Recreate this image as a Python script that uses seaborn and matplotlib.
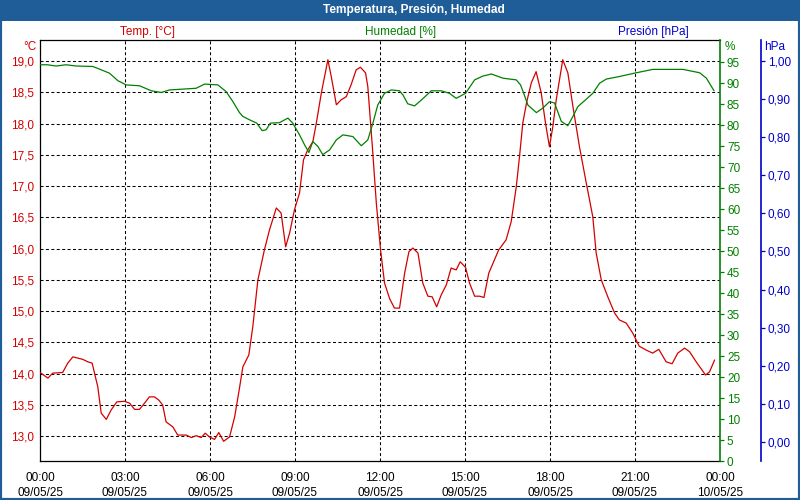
import matplotlib
matplotlib.use("Agg")
import matplotlib.pyplot as plt
import seaborn as sns
from matplotlib.patches import Rectangle
from matplotlib.ticker import MultipleLocator

# ---------------- data ----------------
temp_hours = [0.0, 0.28, 0.45, 0.8, 0.98, 1.16, 1.51, 1.69, 1.84, 2.04, 2.16, 2.34, 2.51, 2.71,
              2.98, 3.16, 3.34, 3.51, 3.69, 3.86, 4.04, 4.19, 4.33, 4.45, 4.69, 4.86, 5.16, 5.34,
              5.51, 5.69, 5.83, 5.98, 6.16, 6.31, 6.48, 6.69, 6.87, 6.93, 7.04, 7.16, 7.37, 7.51,
              7.69, 7.92, 8.10, 8.34, 8.51, 8.67, 8.81, 8.98, 9.16, 9.30, 9.45, 9.63, 9.75, 9.93,
              10.16, 10.28, 10.46, 10.63, 10.81, 10.98, 11.16, 11.31, 11.49, 11.57, 11.73, 11.87,
              12.02, 12.16, 12.34, 12.51, 12.69, 12.87, 13.02, 13.16, 13.34, 13.51, 13.69, 13.84,
              14.00, 14.16, 14.34, 14.51, 14.69, 14.83, 15.02, 15.16, 15.34, 15.51, 15.67, 15.84,
              16.04, 16.19, 16.45, 16.63, 16.81, 16.93, 17.04, 17.18, 17.34, 17.51, 17.69, 17.84,
              17.98, 18.10, 18.22, 18.45, 18.63, 18.81, 19.04, 19.28, 19.51, 19.63, 19.81, 20.04,
              20.28, 20.45, 20.69, 20.92, 21.15, 21.39, 21.62, 21.84, 22.10, 22.31, 22.51, 22.75,
              22.93, 23.16, 23.49, 23.63, 23.81]
temp_values = [14.02, 13.93, 14.01, 14.02, 14.17, 14.27, 14.23, 14.19, 14.17, 13.79, 13.37, 13.27,
               13.42, 13.55, 13.56, 13.53, 13.43, 13.43, 13.53, 13.63, 13.63, 13.58, 13.50, 13.23,
               13.15, 13.02, 13.02, 12.98, 13.01, 12.98, 13.05, 12.99, 12.95, 13.06, 12.92, 12.99,
               13.31, 13.47, 13.77, 14.11, 14.30, 14.75, 15.50, 15.98, 16.30, 16.65, 16.57, 16.03,
               16.25, 16.62, 16.89, 17.42, 17.58, 17.71, 18.00, 18.49, 19.02, 18.75, 18.30, 18.38,
               18.43, 18.62, 18.86, 18.90, 18.81, 18.59, 17.63, 16.73, 15.98, 15.45, 15.20, 15.05,
               15.05, 15.61, 15.95, 16.01, 15.93, 15.45, 15.24, 15.23, 15.07, 15.26, 15.42, 15.69,
               15.66, 15.79, 15.70, 15.45, 15.24, 15.24, 15.22, 15.61, 15.82, 15.98, 16.14, 16.43,
               16.99, 17.50, 18.01, 18.35, 18.65, 18.83, 18.49, 18.01, 17.63, 17.95, 18.38, 19.02,
               18.81, 18.27, 17.63, 17.05, 16.51, 15.93, 15.50, 15.23, 14.97, 14.86, 14.81, 14.65,
               14.44, 14.38, 14.33, 14.39, 14.19, 14.16, 14.33, 14.41, 14.35, 14.19, 13.98, 14.03,
               14.22]

hum_hours = [0.0, 0.26, 0.57, 0.92, 1.28, 1.86, 2.16, 2.45, 2.75, 3.04, 3.51, 3.93, 4.28, 4.57,
             5.04, 5.51, 5.81, 6.28, 6.57, 6.81, 7.04, 7.16, 7.39, 7.65, 7.84, 7.98, 8.13, 8.45,
             8.75, 8.92, 9.16, 9.34, 9.49, 9.63, 9.81, 9.98, 10.22, 10.46, 10.69, 11.04, 11.34,
             11.57, 11.75, 11.92, 12.16, 12.40, 12.69, 12.81, 12.98, 13.22, 13.46, 13.81, 14.16,
             14.45, 14.69, 15.02, 15.34, 15.63, 15.93, 16.34, 16.81, 16.96, 17.05, 17.22, 17.52,
             17.75, 17.98, 18.16, 18.40, 18.63, 18.81, 18.98, 19.28, 19.51, 19.75, 19.99, 20.45,
             20.98, 21.63, 22.69, 23.28, 23.52, 23.79]
hum_values = [94.4, 94.4, 94.1, 94.4, 94.1, 94.0, 93.2, 92.4, 90.6, 89.6, 89.4, 88.2, 87.8, 88.4,
              88.6, 88.8, 89.8, 89.6, 88.0, 85.6, 83.0, 82.1, 81.3, 80.5, 78.7, 78.9, 80.5, 80.6,
              81.7, 80.5, 77.7, 75.3, 73.5, 76.1, 74.9, 73.0, 74.1, 76.5, 77.7, 77.3, 75.1, 76.5,
              80.5, 84.8, 87.6, 88.4, 88.2, 87.2, 85.1, 84.6, 86.0, 88.2, 88.2, 87.6, 86.4, 87.6,
              90.8, 91.7, 92.2, 91.2, 90.8, 89.6, 88.0, 84.8, 83.0, 84.1, 85.6, 85.3, 80.9, 79.9,
              82.1, 84.4, 86.2, 87.6, 90.0, 91.0, 91.6, 92.4, 93.3, 93.3, 92.5, 91.2, 88.2]

x_tick_hours = [0, 3, 6, 9, 12, 15, 18, 21, 24]
x_tick_labels = ["00:00\n09/05/25", "03:00\n09/05/25", "06:00\n09/05/25", "09:00\n09/05/25",
                 "12:00\n09/05/25", "15:00\n09/05/25", "18:00\n09/05/25", "21:00\n09/05/25",
                 "00:00\n10/05/25"]
temp_ticks = [13.0, 13.5, 14.0, 14.5, 15.0, 15.5, 16.0, 16.5, 17.0, 17.5, 18.0, 18.5, 19.0]
hum_ticks = list(range(0, 100, 5))
pres_ticks = [0.0, 0.1, 0.2, 0.3, 0.4, 0.5, 0.6, 0.7, 0.8, 0.9, 1.0]

title = "Temperatura, Presión, Humedad"
temp_label = "Temp. [°C]"
hum_label = "Humedad [%]"
pres_label = "Presión [hPa]"

# ---------------- style ----------------
RED = "#d40000"
GREEN = "#008000"
BLUE = "#0000cc"
BAR = "#1f5d98"
FS = 8.5

sns.set_theme(style="white")
plt.rcParams["font.family"] = ["Liberation Sans", "DejaVu Sans"]
plt.rcParams["font.size"] = FS

W, H = 800, 500
fig = plt.figure(figsize=(8, 5), dpi=100)
fig.patch.set_facecolor("white")

def fx(px):
    return px / W

def fy(py):
    return 1 - py / H

L, R, T, B = 40, 720, 40, 461
ax = fig.add_axes([fx(L), fy(B), fx(R) - fx(L), fy(T) - fy(B)])
ax.set_facecolor("white")

# grid
dash = (0, (2.9, 2.3))
for t in temp_ticks:
    ax.axhline(t, color="black", lw=0.75, ls=dash, zorder=1)
for h in x_tick_hours[1:-1]:
    ax.axvline(h, color="black", lw=0.75, ls=dash, zorder=1)

sns.lineplot(x=temp_hours, y=temp_values, ax=ax, color=RED, lw=0.9,
             estimator=None, sort=False, zorder=3)
ax.set_xlim(0, 24)
ax.set_ylim(12.605, 19.336)
ax.set_xticks(x_tick_hours)
ax.set_xticklabels(x_tick_labels, linespacing=1.3)
ax.xaxis.set_minor_locator(MultipleLocator(1))
ax.tick_params(axis="x", which="both", direction="out", length=3, width=0.75,
               color="black", labelsize=FS, labelcolor="black", pad=5)
ax.set_yticks(temp_ticks)
ax.set_yticklabels([f"{t:.1f}".replace(".", ",") for t in temp_ticks])
ax.tick_params(axis="y", length=0, labelsize=FS, labelcolor=RED, pad=4)
for s in ["left", "bottom", "top"]:
    ax.spines[s].set_color("black")
    ax.spines[s].set_linewidth(0.9)
ax.spines["right"].set_visible(False)
ax.set_xlabel("")
ax.set_ylabel("")

# humidity axis
ax2 = ax.twinx()
sns.lineplot(x=hum_hours, y=hum_values, ax=ax2, color=GREEN, lw=0.9,
             estimator=None, sort=False, zorder=3)
ax2.set_ylim(0.15, 100.3)
ax2.set_xlim(0, 24)
ax2.set_yticks(hum_ticks)
ax2.set_yticklabels([str(v) for v in hum_ticks])
ax2.tick_params(axis="y", direction="out", length=3, width=0.9, color=GREEN,
                labelsize=FS, labelcolor=GREEN, pad=2)
for s in ["left", "top", "bottom"]:
    ax2.spines[s].set_visible(False)
ax2.spines["right"].set_color(GREEN)
ax2.spines["right"].set_linewidth(1.2)
ax2.set_ylabel("")
ax2.grid(False)

# pressure axis (no data)
ax3 = ax.twinx()
ax3.spines["right"].set_position(("axes", (761 - L) / (R - L)))
ax3.set_ylim(-0.05, 1.055)
ax3.set_yticks(pres_ticks)
ax3.set_yticklabels([f"{v:.2f}".replace(".", ",") for v in pres_ticks])
ax3.tick_params(axis="y", direction="out", length=3, width=0.9, color=BLUE,
                labelsize=FS, labelcolor=BLUE, pad=2)
for s in ["left", "top", "bottom"]:
    ax3.spines[s].set_visible(False)
ax3.spines["right"].set_color(BLUE)
ax3.spines["right"].set_linewidth(1.2)
ax3.grid(False)
ax3.set_ylabel("")

# title bar and border
fig.add_artist(Rectangle((0, fy(21)), 1, 21 / H, transform=fig.transFigure,
                         facecolor=BAR, edgecolor="none", zorder=0))
fig.add_artist(Rectangle((0, 0), 1, 1, transform=fig.transFigure, fill=False,
                         edgecolor=BAR, lw=3, zorder=10))
fig.text(fx(414), fy(10.5), title, color="white", fontsize=8.6, fontweight="bold",
         ha="center", va="center")

# series labels
fig.text(fx(147), fy(32.5), temp_label, color=RED, fontsize=FS, ha="center", va="center")
fig.text(fx(401), fy(32.5), hum_label, color=GREEN, fontsize=FS, ha="center", va="center")
fig.text(fx(653), fy(32.5), pres_label, color=BLUE, fontsize=FS, ha="center", va="center")

# unit labels
fig.text(fx(36), fy(46.5), "°C", color=RED, fontsize=FS, ha="right", va="center")
fig.text(fx(725), fy(46.5), "%", color=GREEN, fontsize=FS, ha="left", va="center")
fig.text(fx(764), fy(46.5), "hPa", color=BLUE, fontsize=FS, ha="left", va="center")

fig.savefig("out.png", dpi=100, facecolor="white")
